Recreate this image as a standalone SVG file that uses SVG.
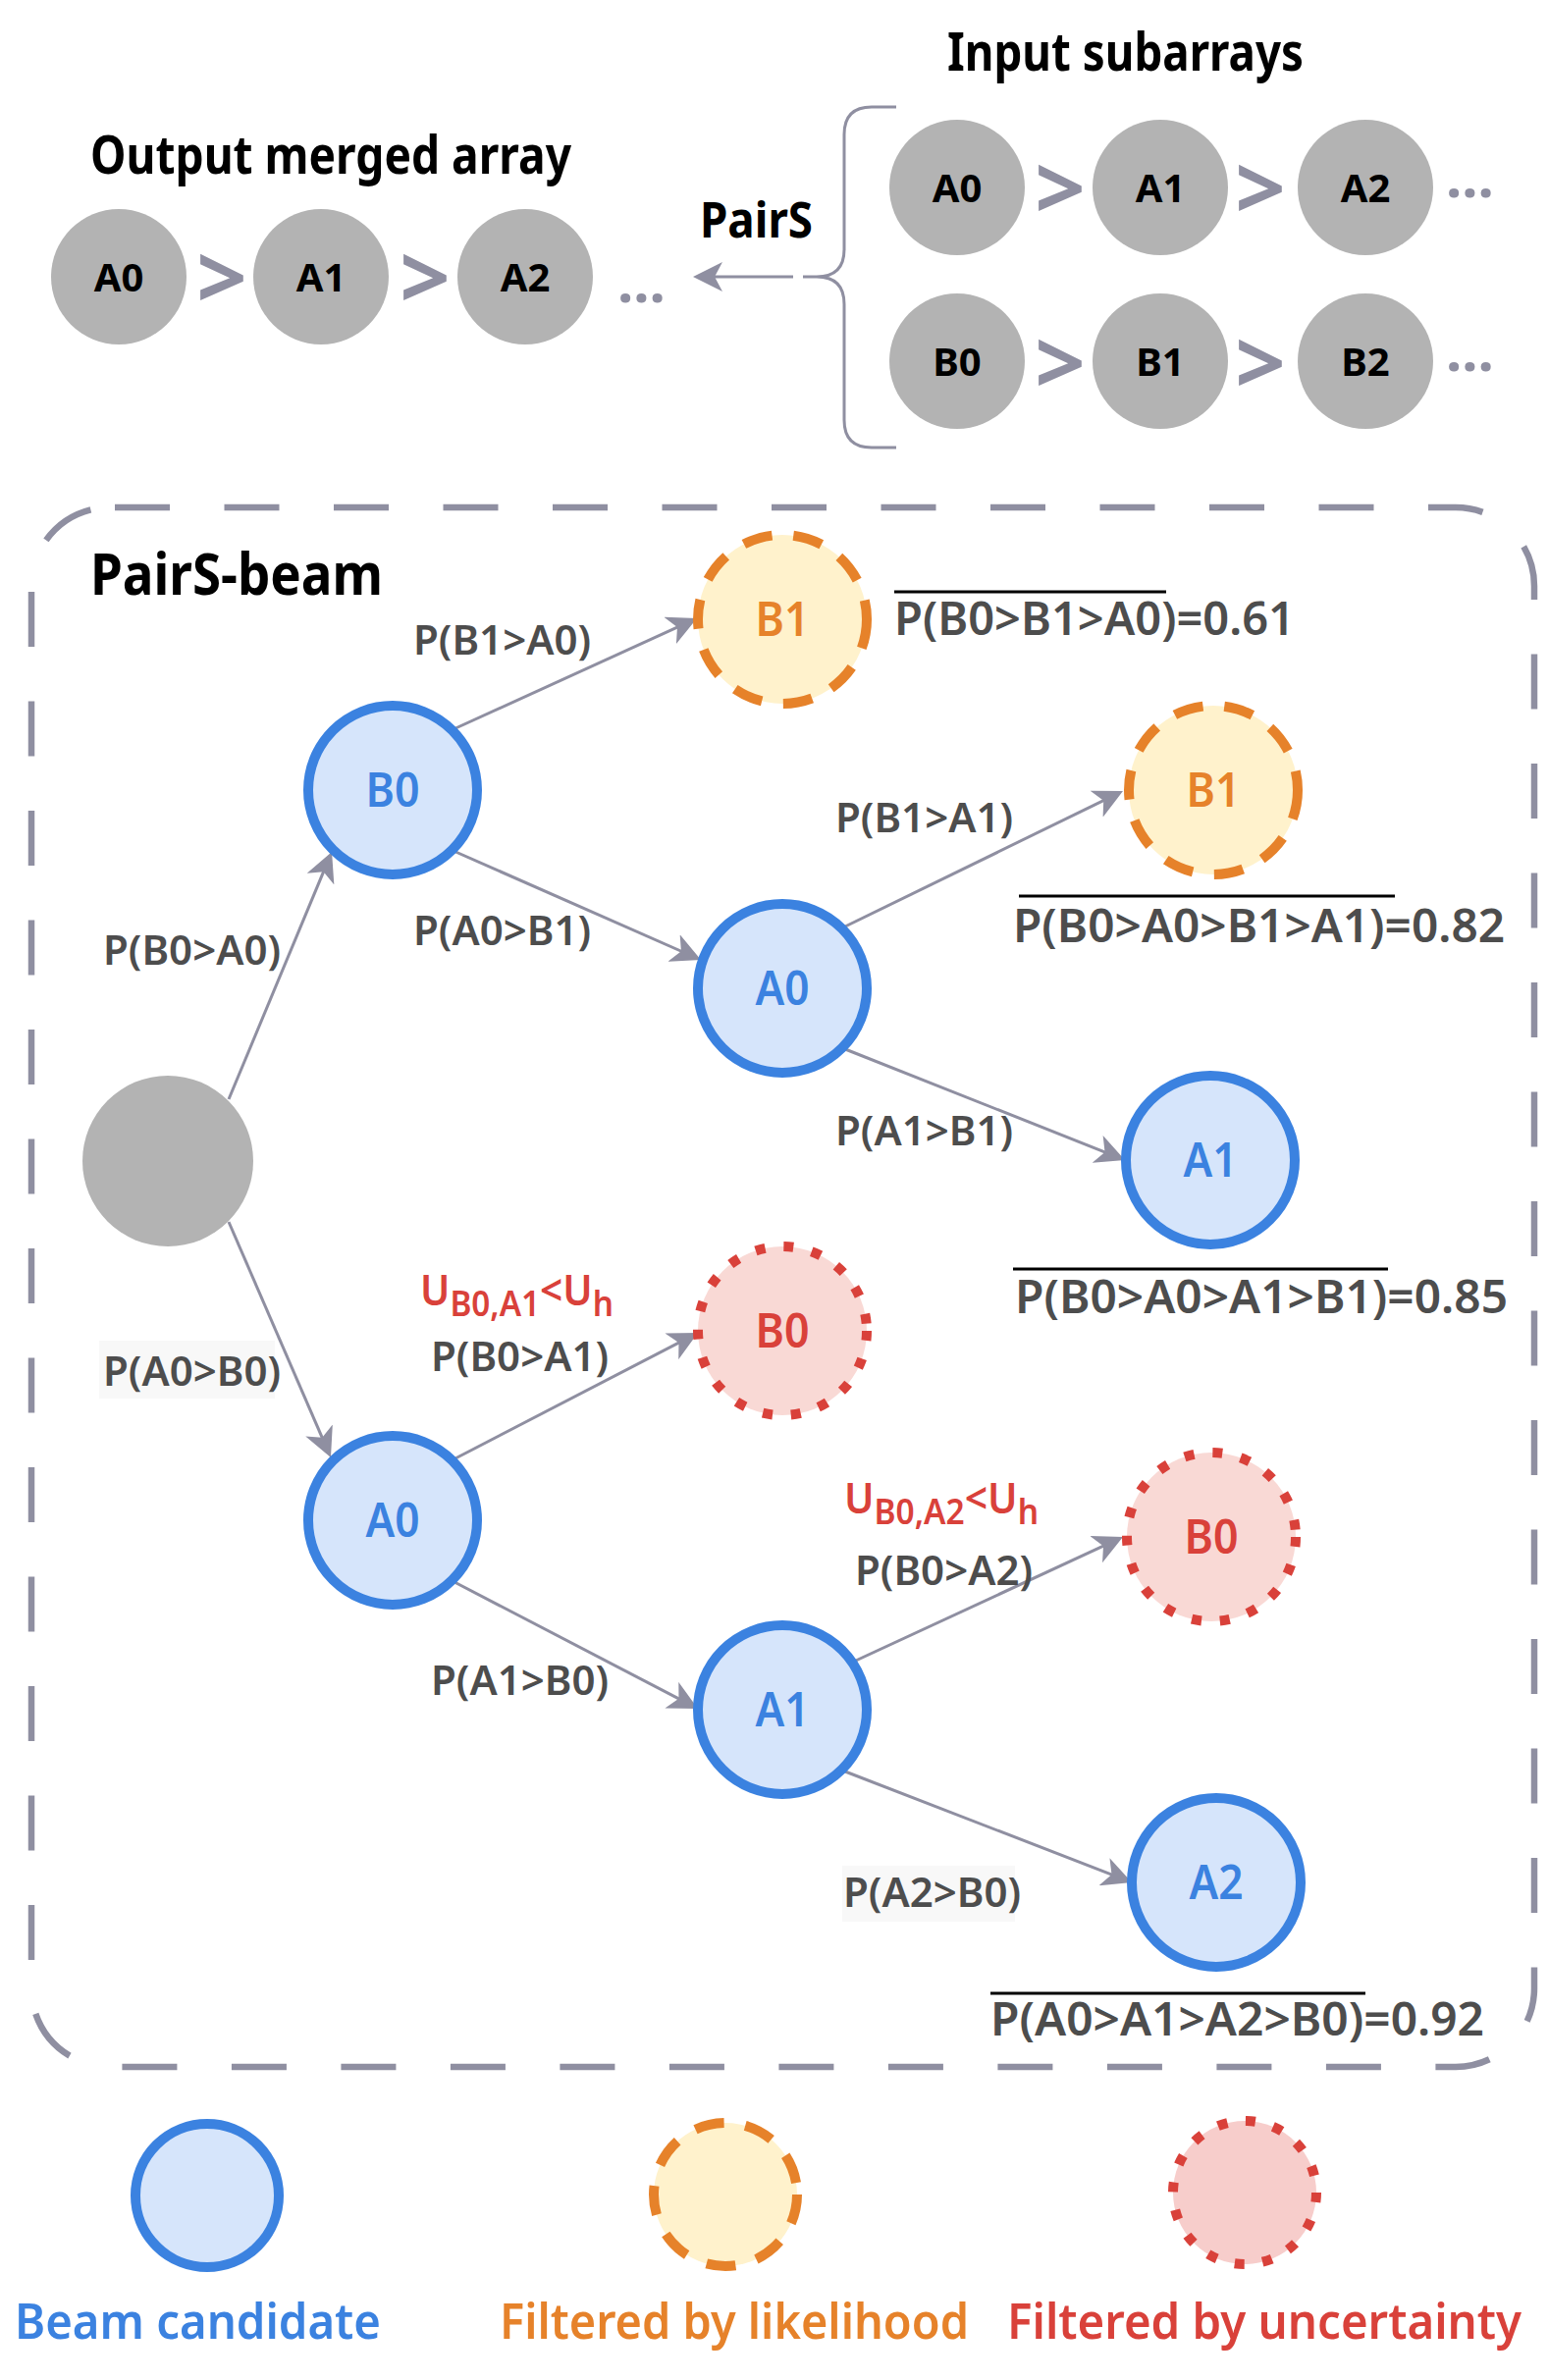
<svg xmlns="http://www.w3.org/2000/svg" width="1577" height="2425" viewBox="0 0 1577 2425">
<defs>
<marker id="ah" viewBox="0 0 30 30" refX="20" refY="15" markerWidth="30" markerHeight="30" markerUnits="userSpaceOnUse" orient="auto">
<path d="M0,0 L30,15 L0,30 L8,15 Z" fill="#8f8fa1"/>
</marker>
<style>
text{font-family:'Noto Sans','Open Sans',sans-serif}
.title{font-weight:700;fill:#000}
.gn{fill:#b3b3b3}
.gl{font-size:40px;font-weight:700;fill:#000;text-anchor:middle}
.chev{font-size:90px;font-weight:700;fill:#8f8fa1;text-anchor:middle}
.dots{font-size:58px;font-weight:700;fill:#8f8fa1}
.beam{fill:#d6e5fb;stroke:#3b82e0;stroke-width:10}
.lik{fill:#fff2cc;stroke:#e6822a;stroke-width:10;stroke-dasharray:30 22}
.unc{fill:#f9d9d5;stroke:#d9413a;stroke-width:10;stroke-dasharray:10 19}
.uncl{fill:#f7cdcb;stroke:#d9413a;stroke-width:10;stroke-dasharray:10 18.7}
.nl{font-size:49px;font-weight:600;text-anchor:middle}
.bt{fill:#3b82e0}
.ot{fill:#e6822a}
.rt{fill:#d9413a}
.edge{stroke:#8f8fa1;stroke-width:3;fill:none;marker-end:url(#ah)}
.el{font-size:42px;font-weight:600;fill:#4d4d4d}
.pr{font-size:47px;font-weight:600;fill:#4d4d4d}
.ov{stroke:#000;stroke-width:3}
.u{font-size:44px;font-weight:600;fill:#d9413a}
.sub{font-size:36px}
.lg{font-size:51px;font-weight:600}
.lbg{fill:#f8f8f8}
</style>
</defs>
<rect width="1577" height="2425" fill="#fff"/>

<!-- Top section -->
<g id="titles">
<text class="title" x="92" y="177" font-size="53" textLength="490" lengthAdjust="spacingAndGlyphs">Output merged array</text>
<text class="title" x="965" y="72" font-size="54" textLength="363" lengthAdjust="spacingAndGlyphs">Input subarrays</text>
<text class="title" x="713" y="242" font-size="50" textLength="115" lengthAdjust="spacingAndGlyphs">PairS</text>
</g>

<g id="out-A0"><circle class="gn" cx="121" cy="282" r="69"/><text class="gl" x="121" y="297">A0</text></g>
<g id="out-A1"><circle class="gn" cx="327" cy="282" r="69"/><text class="gl" x="327" y="297">A1</text></g>
<g id="out-A2"><circle class="gn" cx="535" cy="282" r="69"/><text class="gl" x="535" y="297">A2</text></g>
<g id="out-sym">
<text class="chev" x="226" y="315">&gt;</text>
<text class="chev" x="433" y="315">&gt;</text>
<text class="dots" x="629" y="308">...</text>
</g>

<g id="in-A0"><circle class="gn" cx="975" cy="191" r="69"/><text class="gl" x="975" y="206">A0</text></g>
<g id="in-A1"><circle class="gn" cx="1182" cy="191" r="69"/><text class="gl" x="1182" y="206">A1</text></g>
<g id="in-A2"><circle class="gn" cx="1391" cy="191" r="69"/><text class="gl" x="1391" y="206">A2</text></g>
<g id="in-B0"><circle class="gn" cx="975" cy="368" r="69"/><text class="gl" x="975" y="383">B0</text></g>
<g id="in-B1"><circle class="gn" cx="1182" cy="368" r="69"/><text class="gl" x="1182" y="383">B1</text></g>
<g id="in-B2"><circle class="gn" cx="1391" cy="368" r="69"/><text class="gl" x="1391" y="383">B2</text></g>
<g id="in-sym">
<text class="chev" x="1080" y="224">&gt;</text>
<text class="chev" x="1284" y="224">&gt;</text>
<text class="chev" x="1080" y="402">&gt;</text>
<text class="chev" x="1284" y="402">&gt;</text>
<text class="dots" x="1473" y="201">...</text>
<text class="dots" x="1473" y="378">...</text>
</g>

<g id="brace">
<path d="M913,109 L888,109 Q860,109 860,137 L860,254 Q860,282 832,282 L818,282 M832,282 Q860,282 860,310 L860,428 Q860,456 888,456 L913,456" fill="none" stroke="#8f8fa1" stroke-width="3"/>
</g>

<!-- PairS-beam container -->
<g id="beam-box">
<rect x="32" y="517" width="1531" height="1589" rx="80" ry="80" fill="none" stroke="#8f8fa1" stroke-width="6.5" stroke-dasharray="56 55.5" stroke-dashoffset="-5"/>
<text class="title" x="92" y="606" font-size="60" textLength="298" lengthAdjust="spacingAndGlyphs">PairS-beam</text>
</g>

<g id="connectors">
<line class="edge" x1="808" y1="282" x2="716" y2="282"/>
<line class="edge" x1="233" y1="1120" x2="334.2" y2="877.2"/>
<line class="edge" x1="233" y1="1245" x2="333.0" y2="1475.8"/>
<line class="edge" x1="462" y1="743" x2="700.9" y2="634.1"/>
<line class="edge" x1="462" y1="867" x2="704.9" y2="974.0"/>
<line class="edge" x1="859" y1="945" x2="1135.0" y2="810.4"/>
<line class="edge" x1="861" y1="1069" x2="1136.7" y2="1178.3"/>
<line class="edge" x1="462" y1="1487" x2="702.1" y2="1362.6"/>
<line class="edge" x1="463" y1="1612" x2="702.1" y2="1736.4"/>
<line class="edge" x1="861" y1="1697" x2="1134.9" y2="1570.2"/>
<line class="edge" x1="861" y1="1805" x2="1143.7" y2="1914.4"/>
</g>

<g id="edge-labels">
<text class="el" x="105" y="983">P(B0&gt;A0)</text>
<rect class="lbg" x="101" y="1366" width="179" height="59"/>
<text class="el" x="105" y="1412">P(A0&gt;B0)</text>
<text class="el" x="421" y="667">P(B1&gt;A0)</text>
<text class="el" x="421" y="963">P(A0&gt;B1)</text>
<text class="el" x="851" y="848">P(B1&gt;A1)</text>
<text class="el" x="851" y="1167">P(A1&gt;B1)</text>
<text class="el" x="439" y="1397">P(B0&gt;A1)</text>
<text class="el" x="439" y="1727">P(A1&gt;B0)</text>
<text class="el" x="871" y="1615">P(B0&gt;A2)</text>
<rect class="lbg" x="858" y="1901" width="176" height="57"/>
<text class="el" x="859" y="1943">P(A2&gt;B0)</text>
<text class="u" x="428" y="1330" textLength="197" lengthAdjust="spacingAndGlyphs">U<tspan class="sub" dy="11">B0,A1</tspan><tspan dy="-11">&lt;U</tspan><tspan class="sub" dy="11">h</tspan></text>
<text class="u" x="860" y="1542" textLength="198" lengthAdjust="spacingAndGlyphs">U<tspan class="sub" dy="11">B0,A2</tspan><tspan dy="-11">&lt;U</tspan><tspan class="sub" dy="11">h</tspan></text>
</g>

<g id="root"><circle class="gn" cx="171" cy="1183" r="87"/></g>
<g id="n-B0"><circle class="beam" cx="400" cy="805" r="86"/><text class="nl bt" x="400" y="822" textLength="55" lengthAdjust="spacingAndGlyphs">B0</text></g>
<g id="n-B0-B1"><circle class="lik" cx="797" cy="631" r="86"/><text class="nl ot" x="797" y="648" textLength="55" lengthAdjust="spacingAndGlyphs">B1</text></g>
<g id="n-B0-A0"><circle class="beam" cx="797" cy="1007" r="86"/><text class="nl bt" x="797" y="1024" textLength="55" lengthAdjust="spacingAndGlyphs">A0</text></g>
<g id="n-B0-A0-B1"><circle class="lik" cx="1236" cy="805" r="86"/><text class="nl ot" x="1236" y="822" textLength="55" lengthAdjust="spacingAndGlyphs">B1</text></g>
<g id="n-B0-A0-A1"><circle class="beam" cx="1233" cy="1182" r="86"/><text class="nl bt" x="1233" y="1199" textLength="55" lengthAdjust="spacingAndGlyphs">A1</text></g>
<g id="n-A0"><circle class="beam" cx="400" cy="1549" r="86"/><text class="nl bt" x="400" y="1566" textLength="55" lengthAdjust="spacingAndGlyphs">A0</text></g>
<g id="n-A0-B0"><circle class="unc" cx="797" cy="1356" r="86"/><text class="nl rt" x="797" y="1373" textLength="55" lengthAdjust="spacingAndGlyphs">B0</text></g>
<g id="n-A0-A1"><circle class="beam" cx="797" cy="1742" r="86"/><text class="nl bt" x="797" y="1759" textLength="55" lengthAdjust="spacingAndGlyphs">A1</text></g>
<g id="n-A0-A1-B0"><circle class="unc" cx="1234" cy="1566" r="86"/><text class="nl rt" x="1234" y="1583" textLength="55" lengthAdjust="spacingAndGlyphs">B0</text></g>
<g id="n-A0-A1-A2"><circle class="beam" cx="1239" cy="1918" r="86"/><text class="nl bt" x="1239" y="1935" textLength="55" lengthAdjust="spacingAndGlyphs">A2</text></g>

<g id="path-probs">
<line class="ov" x1="911" y1="603" x2="1188" y2="603"/>
<text class="pr" x="911" y="647" textLength="408" lengthAdjust="spacingAndGlyphs">P(B0&gt;B1&gt;A0)=0.61</text>
<line class="ov" x1="1038" y1="913" x2="1421" y2="913"/>
<text class="pr" x="1032" y="960" textLength="501" lengthAdjust="spacingAndGlyphs">P(B0&gt;A0&gt;B1&gt;A1)=0.82</text>
<line class="ov" x1="1032" y1="1293" x2="1414" y2="1293"/>
<text class="pr" x="1034" y="1338" textLength="502" lengthAdjust="spacingAndGlyphs">P(B0&gt;A0&gt;A1&gt;B1)=0.85</text>
<line class="ov" x1="1009" y1="2031" x2="1391" y2="2031"/>
<text class="pr" x="1009" y="2074" textLength="503" lengthAdjust="spacingAndGlyphs">P(A0&gt;A1&gt;A2&gt;B0)=0.92</text>
</g>

<g id="legend-beam"><circle class="beam" cx="211" cy="2237" r="73"/><text class="lg bt" x="15" y="2383" textLength="373" lengthAdjust="spacingAndGlyphs">Beam candidate</text></g>
<g id="legend-likelihood"><circle class="lik" cx="739" cy="2236" r="73"/><text class="lg ot" x="509" y="2383" textLength="478" lengthAdjust="spacingAndGlyphs">Filtered by likelihood</text></g>
<g id="legend-uncertainty"><circle class="uncl" cx="1268" cy="2234" r="73"/><text class="lg rt" x="1026" y="2383" textLength="524" lengthAdjust="spacingAndGlyphs">Filtered by uncertainty</text></g>
</svg>
